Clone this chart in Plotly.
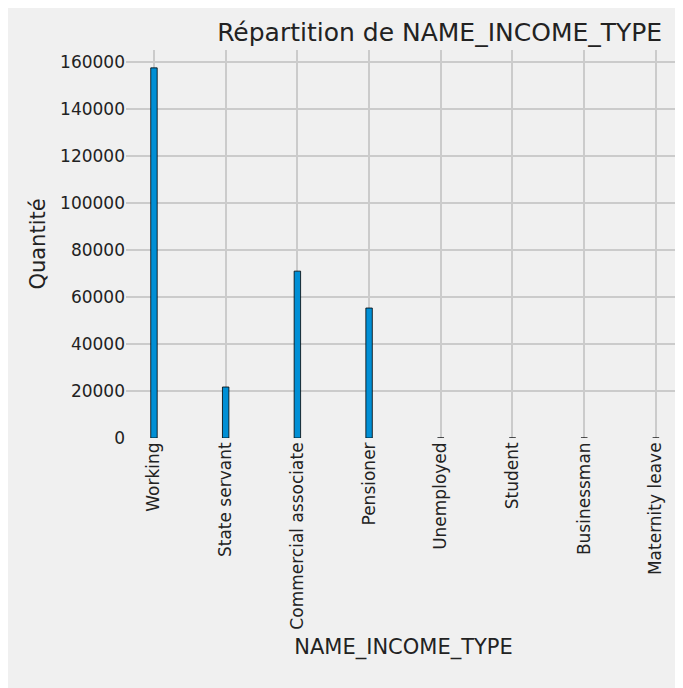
import plotly.graph_objects as go

categories = ["Working", "State servant", "Commercial associate", "Pensioner",
              "Unemployed", "Student", "Businessman", "Maternity leave"]
counts = [157500, 21700, 71000, 55300, 20, 15, 10, 5]

fig = go.Figure()
fig.add_trace(go.Bar(x=list(range(len(categories))), y=counts, width=0.09,
                     marker=dict(color="#008fd5", line=dict(color="black", width=0.8))))

fig.update_layout(
    width=683, height=688,
    paper_bgcolor="#f0f0f0", plot_bgcolor="#f0f0f0",
    margin=dict(l=118, r=10, t=42, b=258),
    font=dict(family="DejaVu Sans", size=17, color="#222"),
    title=dict(text="Répartition de NAME_INCOME_TYPE", x=0.632, xanchor="center",
               y=0.965, yanchor="middle", font=dict(size=25)),
    showlegend=False,
)
fig.update_xaxes(tickmode="array", tickvals=list(range(len(categories))), ticktext=categories,
                 tickangle=-90, range=[-0.39, 7.35], showgrid=True, gridcolor="#cbcbcb",
                 gridwidth=1.5, zeroline=False, ticks="", automargin=False,
                 title=dict(text="NAME_INCOME_TYPE", font=dict(size=21), standoff=10))
fig.update_yaxes(range=[0, 165100], tickvals=[0, 20000, 40000, 60000, 80000, 100000, 120000, 140000, 160000],
                 tickformat="d", showgrid=True, gridcolor="#cbcbcb", gridwidth=1.5,
                 zeroline=False, ticks="", automargin=False,
                 title=dict(text="Quantité", font=dict(size=21), standoff=8))

fig.write_html("out.html")
